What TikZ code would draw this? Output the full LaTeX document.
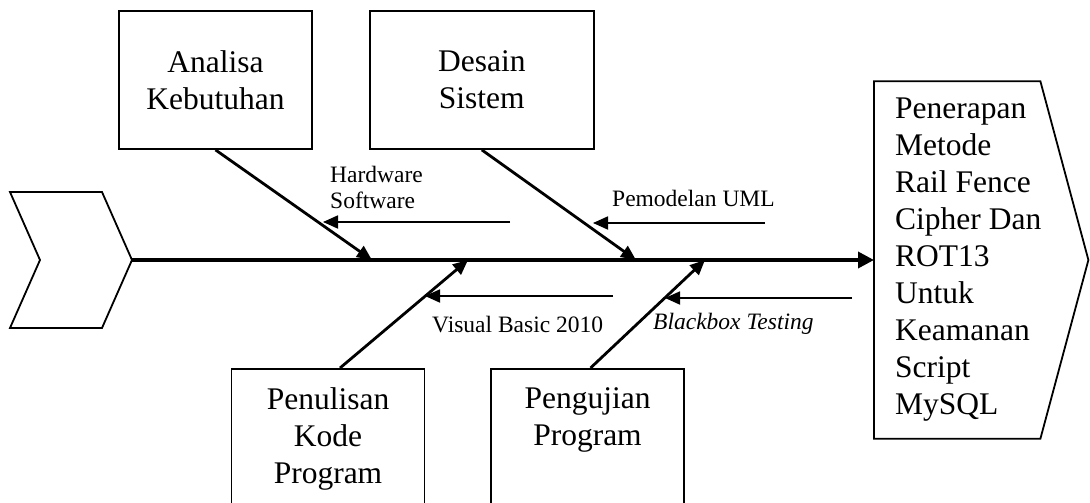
\documentclass[tikz,border=0pt]{standalone}
\usepackage{fontspec}
\setmainfont{Liberation Serif}
\usetikzlibrary{positioning,arrows.meta}

\newcommand{\fishbig}{\fontsize{31.5}{37}\selectfont}
\newcommand{\fishsmall}{\fontsize{23.5}{26}\selectfont}

\tikzset{
    causebox/.style={draw, line width=1.8pt, minimum width=193pt, minimum height=138pt, inner sep=0pt, align=center, font=\fishbig},
    lowbox/.style={causebox, anchor=north, minimum height=0pt, inner ysep=19pt, text depth=100pt},
    bone/.style={line width=2.8pt, -{Triangle[length=15pt,width=13pt]}},
    spine/.style={line width=3.6pt, -{Triangle[length=16pt,width=16pt]}},
    rib/.style={line width=1.8pt, -{Triangle[length=15pt,width=13pt]}},
    note/.style={inner sep=0pt, font=\fishsmall}
}

\begin{document}
\begin{tikzpicture}[x=1pt, y=-1pt]
            \useasboundingbox (0,0) rectangle (1090,503);

            % causes above and below the spine
            \node[causebox] (analisa) at (215.5,80) {Analisa\\Kebutuhan};
            \node[causebox, minimum width=224pt] (desain) [right=56pt of analisa] {Desain\\Sistem};
            \node[lowbox] (penulisan) at (328,368) {Penulisan\\Kode\\Program};
            \node[lowbox] (pengujian) at (587.5,368) {Pengujian\\Program};

            % head of the fish
            \node[font=\fishbig, align=flush left, text width=172pt, inner xsep=21pt, inner ysep=0pt, minimum height=357pt, anchor=west] (result) at (874,260)
                {Penerapan\\Metode\\Rail Fence\\Cipher Dan\\ROT13\\Untuk\\Keamanan\\Script\\MySQL};
            \draw[line width=1.8pt] (result.north west) -- ([xshift=-48pt]result.north east) -- (result.east)
                -- ([xshift=-48pt]result.south east) -- (result.south west) -- cycle;

            % tail of the fish
            \coordinate (tail) at (132,260);
            \draw[line width=1.8pt] (10,192) -- (102,192) -- (tail) -- (102,328) -- (10,328) -- (40,260) -- cycle;

            \coordinate (j1) at (372,260);
            \coordinate (j2) at (636,260);
            \coordinate (j3) at (468,260);
            \coordinate (j4) at (705,260);

            \draw[spine] (tail) -- (result.west);

            \path[bone]
                (analisa.south) edge (j1)
                (desain.south) edge (j2)
                ([xshift=12pt]penulisan.north) edge (j3)
                ([xshift=3pt]pengujian.north) edge (j4)
            ;

            % sub causes
            \coordinate (hw1) at (510,222);
            \coordinate (hw2) at (323,222);
            \coordinate (uml1) at (765,223);
            \coordinate (uml2) at (593,223);
            \coordinate (vb1) at (613,296);
            \coordinate (vb2) at (425,296);
            \coordinate (bb1) at (852,298);
            \coordinate (bb2) at (665,298);

            \path[rib]
                (hw1) edge (hw2)
                (uml1) edge (uml2)
                (vb1) edge (vb2)
                (bb1) edge (bb2)
            ;

            \node[note, anchor=north west, align=left] (hwnote) at (330,166) {Hardware\\Software};
            \node[note, anchor=base west] (umlnote) at (612,206) {Pemodelan UML};
            \node[note, anchor=base west] (vbnote) at (432,332) {Visual Basic 2010};
            \node[note, anchor=base west, font=\fishsmall\itshape] (bbnote) at (653,329) {Blackbox Testing};
        \end{tikzpicture}
\end{document}
